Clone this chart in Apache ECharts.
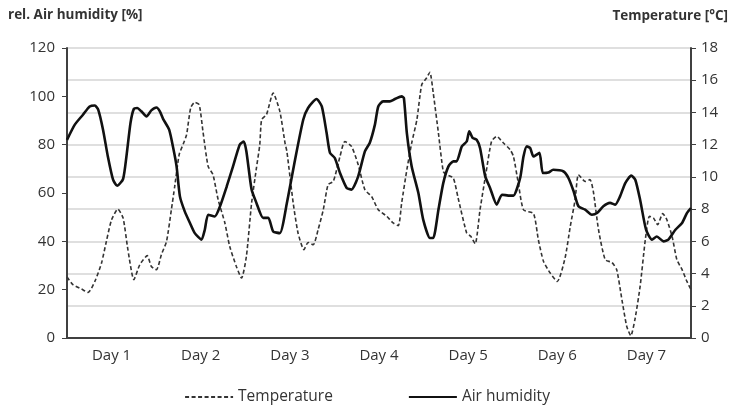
<!DOCTYPE html>
<html>
<head>
<meta charset="utf-8">
<script src="https://cdn.jsdelivr.net/npm/echarts@6/dist/echarts.min.js"></script>
<style>
  html, body { margin: 0; padding: 0; background: #fff; }
  #chart { width: 734px; height: 411px; }
</style>
</head>
<body>
<div id="chart"></div>
<script>
// day labels on the x axis
var days = ['Day 1', 'Day 2', 'Day 3', 'Day 4', 'Day 5', 'Day 6', 'Day 7'];

// air humidity [%], hours since start of day 1
var humidityHours = [0, 2.1, 4.3, 6.1, 7.5, 8.4, 9.7, 11.0, 12.4, 13.5, 15.1, 16.0, 17.1, 18.0, 18.9, 20.0, 21.4, 22.7, 24.1, 25.0,
    25.9, 27.5, 28.6, 29.5, 30.4, 31.7, 33.1, 34.4, 36.2, 37.1, 38.0, 39.8, 41.2, 43.0, 44.7, 46.5, 47.6, 48.3, 49.7, 51.0,
    52.8, 54.2, 55.5, 57.3, 59.2, 61.4, 63.6, 64.9, 67.2, 68.6, 69.9, 70.8, 72.1, 73.5, 75.3, 76.6, 78.4, 80.2, 81.5, 82.9,
    83.8, 85.1, 86.9, 88.3, 90.1, 90.7, 91.5, 92.8, 94.6, 95.9, 97.7, 98.6, 100.0, 101.3, 102.7, 104.0, 104.9, 106.3, 107.6, 108.3,
    109.2, 110.3, 111.2, 112.6, 113.9, 115.7, 117.1, 119.3, 120.2, 122.0, 122.9, 123.8, 124.7, 125.6, 127.2, 128.1, 129.6, 130.9, 133.7, 135.0,
    136.4, 137.7, 139.5, 141.3, 142.7, 144.4, 146.2, 147.6, 148.9, 150.3, 151.9, 153.0, 154.3, 155.9, 157.5, 158.8, 160.6, 161.9, 163.8, 165.6,
    166.9, 168];
var humidity = [82, 88.3, 92.4, 95.8, 96.2, 94.5, 86.2, 75.1, 65.5, 63, 65.8, 75.1, 89, 94.8, 95.2, 93.8, 91.7, 94.2, 95.4, 93.8,
    90.6, 86.2, 78.6, 71, 58.6, 52.4, 47.6, 43.4, 40.7, 44.8, 51, 50.3, 54.5, 62.7, 71, 80, 81.3, 77.2, 61.4, 55.9,
    49.7, 49.7, 44.1, 43.4, 55.9, 73.8, 90.3, 95.2, 98.9, 95.8, 84.8, 76.6, 74.5, 68.3, 62.1, 61.4, 66.9, 77.2, 80.7, 88.3,
    95.8, 97.9, 97.9, 98.9, 100, 99.3, 84.8, 71, 60, 49, 41.4, 41.4, 53.1, 64.1, 71, 73.1, 73.1, 79.3, 81.3, 85.5,
    82.8, 82, 78.6, 66.9, 62.1, 55.2, 59.3, 58.9, 58.9, 66.2, 75.1, 79.3, 78.6, 75.1, 76.6, 68.3, 68.5, 69.6, 68.9, 66.2,
    60.7, 54.5, 53.1, 51, 51.7, 54.5, 55.9, 55.2, 58.6, 64.1, 67.2, 65.5, 57.2, 44.8, 40.7, 42, 40, 40.7, 44.8, 47.6,
    51.7, 53.8];

// temperature [°C]
var tempHours = [0, 1.6, 3.9, 5.7, 7.5, 9.3, 10.6, 12.0, 13.7, 15.1, 16.4, 18.0, 19.6, 21.6, 22.7, 24.1, 25.4, 26.8, 28.1, 29.0,
    30.2, 31.4, 32.2, 33.3, 34.4, 35.6, 36.6, 38.0, 39.3, 40.7, 42.5, 43.8, 45.6, 47.0, 48.3, 49.7, 51.0, 51.9, 52.4, 53.7,
    55.5, 57.3, 58.7, 59.2, 60.9, 62.2, 63.8, 64.9, 66.3, 67.6, 69.0, 70.3, 71.7, 73.5, 74.8, 76.6, 78.4, 80.2, 82.0, 83.8,
    86.1, 87.8, 89.2, 90.1, 91.5, 92.8, 94.2, 95.5, 96.8, 97.7, 98.6, 100.0, 101.3, 102.2, 104.0, 105.3, 107.6, 108.7, 109.9, 111.2,
    112.8, 114.3, 115.7, 117.5, 119.3, 120.2, 121.5, 122.9, 125.6, 126.9, 128.3, 130.1, 132.0, 134.1, 135.5, 136.8, 137.7, 139.5, 140.8, 141.7,
    143.1, 144.9, 146.7, 148.0, 149.4, 150.7, 151.8, 152.9, 154.3, 155.7, 156.8, 157.9, 159.0, 160.4, 161.5, 162.9, 164.2, 165.6, 166.9, 168];
var temperature = [3.79, 3.31, 3.04, 2.83, 3.51, 4.66, 6.0, 7.34, 8.0, 7.45, 5.48, 3.62, 4.55, 5.11, 4.44, 4.24, 5.17, 6.0, 7.96, 9.41,
    11.38, 12.1, 12.62, 14.28, 14.63, 14.48, 12.82, 10.65, 10.14, 8.58, 7.14, 5.69, 4.44, 3.72, 5.07, 8.38, 10.55, 12.0, 13.55, 13.86,
    15.21, 14.07, 12.1, 11.58, 8.38, 6.52, 5.48, 5.93, 5.79, 6.72, 7.96, 9.52, 9.72, 11.27, 12.2, 11.89, 10.76, 9.2, 8.79, 7.96,
    7.55, 7.14, 6.97, 8.38, 10.45, 12.1, 13.55, 15.72, 16.14, 16.49, 15.21, 12.72, 10.34, 10.14, 9.93, 8.69, 6.52, 6.31, 5.85, 7.96,
    10.24, 12.2, 12.51, 12.1, 11.69, 11.27, 9.62, 7.96, 7.72, 6.1, 4.75, 4.03, 3.51, 4.97, 6.93, 8.58, 10.14, 9.72, 9.83, 9.1,
    6.72, 4.86, 4.69, 4.24, 2.38, 0.72, 0.14, 1.14, 3.2, 6.1, 7.55, 7.45, 7.03, 7.72, 7.34, 6.31, 4.86, 4.24, 3.51, 3.0];

function pairs(xs, ys) {
    var out = [];
    for (var i = 0; i < xs.length; i++) {
        out.push([xs[i], ys[i]]);
    }
    return out;
}

var chart = echarts.init(document.getElementById('chart'));
var font = '"Open Sans", "Liberation Sans", sans-serif';
var axisColor = '#404040';

chart.setOption({
    animation: false,
    textStyle: { fontFamily: font },
    grid: { left: 67, right: 43, top: 48, bottom: 73 },
    graphic: [
        { type: 'text', left: 8, top: 8,
          style: { text: 'rel. Air humidity [%]', font: 'bold 13.5px ' + font, fill: '#333' } },
        { type: 'text', right: 6, top: 9,
          style: { text: 'Temperature [°C]', font: 'bold 13.5px ' + font, fill: '#333' } }
    ],
    legend: {
        bottom: 1,
        left: 'center',
        itemGap: 75,
        itemWidth: 48,
        itemHeight: 10,
        itemStyle: { opacity: 0 },
        textStyle: { fontSize: 15.5, color: '#333', fontFamily: font },
        data: ['Temperature', 'Air humidity']
    },
    xAxis: [
        {
            type: 'category',
            data: days,
            boundaryGap: true,
            axisLine: { lineStyle: { color: axisColor, width: 2 } },
            axisTick: { show: false },
            axisLabel: { color: '#333', fontSize: 15, margin: 10 },
            splitLine: { show: false }
        },
        {
            type: 'value',
            min: 0,
            max: 168,
            show: false
        }
    ],
    yAxis: [
        {
            type: 'value',
            min: 0,
            max: 120,
            interval: 20,
            position: 'left',
            axisLine: { show: true, lineStyle: { color: axisColor, width: 2 } },
            axisTick: { show: true, length: 5, lineStyle: { color: axisColor } },
            axisLabel: { color: '#333', fontSize: 15, margin: 12 },
            splitLine: { show: false }
        },
        {
            type: 'value',
            min: 0,
            max: 18,
            interval: 2,
            position: 'right',
            axisLine: { show: true, lineStyle: { color: axisColor, width: 2 } },
            axisTick: { show: true, length: 5, lineStyle: { color: axisColor } },
            axisLabel: { color: '#333', fontSize: 15, margin: 10 },
            splitLine: { show: true, lineStyle: { color: '#d4d4d4', width: 1.5 } }
        }
    ],
    series: [
        {
            name: 'Temperature',
            type: 'line',
            xAxisIndex: 1,
            yAxisIndex: 1,
            data: pairs(tempHours, temperature),
            symbol: 'none',
            smooth: 0.2,
            lineStyle: { color: '#333', width: 1.6, type: [4, 2.5] },
            itemStyle: { color: '#333' }
        },
        {
            name: 'Air humidity',
            type: 'line',
            xAxisIndex: 1,
            yAxisIndex: 0,
            data: pairs(humidityHours, humidity),
            symbol: 'none',
            smooth: 0.2,
            lineStyle: { color: '#111', width: 2.6 },
            itemStyle: { color: '#111' }
        }
    ]
});
</script>
</body>
</html>
